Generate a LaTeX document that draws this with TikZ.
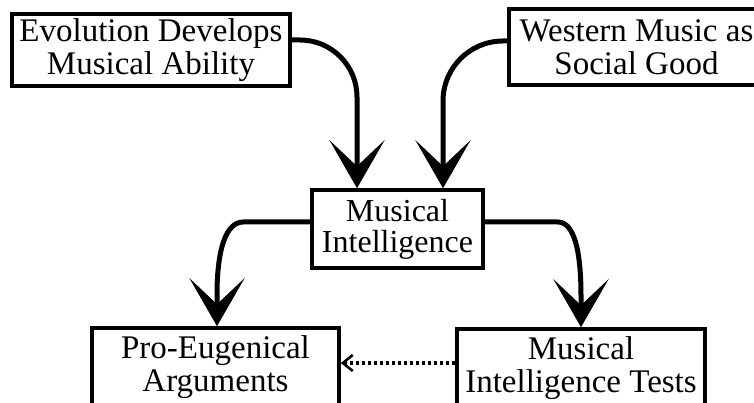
\documentclass[tikz,border=0pt]{standalone}
\usepackage{fontspec}
\setmainfont{Liberation Serif}
\usetikzlibrary{arrows.meta,calc}
\begin{document}
\begin{tikzpicture}[x=1pt,y=-1pt,
  box/.style={draw,line width=3.5pt,inner sep=0pt,align=center,
    minimum height=75pt,font=\fontsize{33}{33}\selectfont},
  bigarrow/.style={line width=5pt,-{Stealth[length=48pt,width=55pt,inset=26pt]}},
  dotarrow/.style={line width=3.5pt,dash pattern=on 3.5pt off 2.5pt,
    -{Straight Barb[length=10pt,width=16pt,line width=2.5pt]}}]
\useasboundingbox (0,0) rectangle (754,403);
\node[box,minimum width=278pt,minimum height=72pt] (evo) at (151,50) {Evolution Develops\\Musical Ability};
\node[box,minimum width=255pt,minimum height=76pt] (wm) at (636.5,47) {Western Music as\\Social Good};
\node[box,minimum width=171pt,minimum height=78pt,font=\fontsize{32}{31}\selectfont] (mi) at (397.5,229) {Musical\\Intelligence};
\node[box,minimum width=247pt,minimum height=78pt] (pro) at (215.5,367) {Pro-Eugenical\\Arguments};
\node[box,minimum width=248pt,minimum height=78pt] (tests) at (581,368) {Musical\\Intelligence Tests};
% top arrows
\draw[bigarrow,rounded corners=57pt] ($(evo.east)+(0,-10)$) -| ($(mi.north)+(-40.5,0)$);
\draw[bigarrow,rounded corners=60pt] ($(wm.west)+(0,-6)$) -| ($(mi.north)+(45.5,0)$);
% lower left
\coordinate (s3) at ($(mi.west)+(0,-7)$);
\coordinate (k3) at ($(s3)+(-67,0)$);
\coordinate (e3) at ($(pro.north)+(1.5,-31)$);
\draw[bigarrow] (s3) -- (k3) .. controls ($(k3)+(-17,0)$) and ($(e3)+(0,-47)$) .. (e3) -- ($(pro.north)+(1.5,0)$);
% lower right
\coordinate (s4) at ($(mi.east)+(0,-7)$);
\coordinate (k4) at ($(s4)+(73,0)$);
\coordinate (e4) at ($(tests.north)+(0,-31)$);
\draw[bigarrow] (s4) -- (k4) .. controls ($(k4)+(16,0)$) and ($(e4)+(0,-47)$) .. (e4) -- (tests.north);
% dotted
\coordinate (s5) at ($(tests.west)+(0,-5)$);
\draw[dotarrow] (s5) -- (s5 -| pro.east);
\end{tikzpicture}
\end{document}
